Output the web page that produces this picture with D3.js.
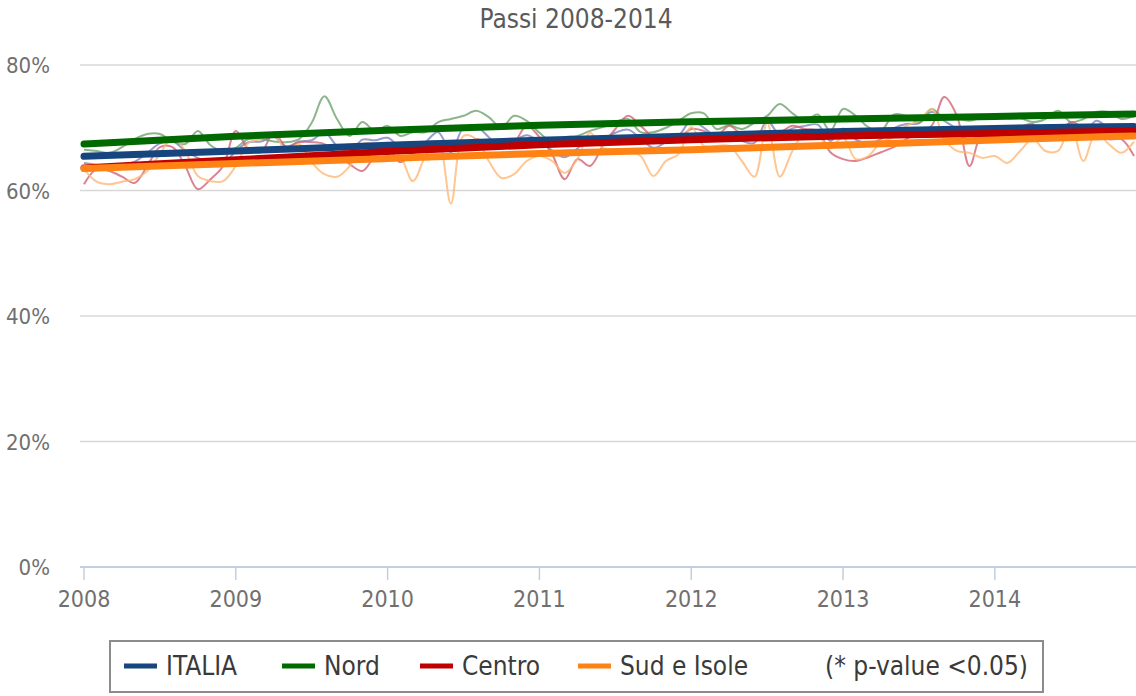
<!DOCTYPE html>
<html>
<head>
<meta charset="utf-8">
<script src="https://cdn.jsdelivr.net/npm/d3@7"></script>
<style>
  body { margin: 0; background: #fff; }
  svg text { font-family: "DejaVu Sans Condensed", "DejaVu Sans", sans-serif; font-stretch: condensed; }
</style>
</head>
<body>
<div id="chart"></div>
<script>
// monthly values, Jan 2008 .. Dec 2014
const startYear = 2008;
const yearTicks = [2008, 2009, 2010, 2011, 2012, 2013, 2014];
const yTicks = [0, 20, 40, 60, 80];

const italia = [64.4,64.1,63.7,64.1,64.6,66.0,67.5,67.9,66.3,65.2,64.2,64.2,
  66.3,67.7,67.8,68.6,67.0,67.8,68.0,69.3,67.1,66.1,68.1,68.0,
  68.4,66.8,66.0,67.7,69.3,66.1,70.0,70.2,68.5,66.7,67.9,68.8,
  67.8,66.4,65.3,66.7,68.3,68.3,69.2,69.7,68.3,66.8,67.7,68.7,
  71.1,70.0,68.6,69.3,67.9,67.6,71.1,68.9,69.9,70.3,70.5,67.9,
  69.9,68.1,67.6,68.2,69.9,70.6,70.7,72.5,71.1,69.8,67.9,69.1,
  69.4,68.7,69.4,69.9,68.9,69.6,70.7,68.8,71.1,69.9,68.8,69.3];
const nord = [66.5,66.3,66.0,66.9,68.2,69.0,69.0,67.8,67.4,69.5,67.2,66.3,
  66.8,68.2,68.2,67.8,67.7,68.2,70.8,75.0,71.4,68.7,70.9,69.5,
  70.3,68.7,69.3,69.3,70.9,71.4,71.9,72.7,71.7,70.0,71.9,71.1,
  69.2,67.8,68.5,68.7,69.5,70.1,70.9,71.4,69.3,69.3,70.0,71.1,
  72.3,72.3,69.8,70.4,69.8,70.8,71.9,73.8,72.3,71.1,72.1,69.5,
  73.0,71.9,70.1,69.5,72.1,71.9,70.8,73.0,71.5,71.5,71.1,71.7,
  71.9,71.5,71.5,70.9,71.4,72.7,70.9,71.4,72.5,72.5,71.4,71.9];
const centro = [61.0,63.4,63.1,62.2,61.2,63.9,66.9,66.9,63.9,60.2,61.8,63.9,
  69.5,66.6,66.1,69.3,66.9,67.7,67.7,67.4,65.8,64.2,63.1,65.5,
  66.9,64.5,66.1,67.7,67.8,67.8,67.4,68.2,67.4,67.1,67.7,70.3,
  68.5,65.8,61.8,65.0,63.9,67.1,69.8,71.9,70.3,68.5,67.7,68.2,
  69.8,69.5,68.7,70.3,69.0,69.3,69.5,69.3,70.3,69.8,69.5,66.1,
  65.0,64.7,65.3,66.1,66.9,68.2,69.3,70.3,74.9,71.9,63.9,69.3,
  69.8,69.5,70.1,70.6,68.2,68.7,70.9,70.1,70.3,68.2,68.2,65.5];
const sud = [63.4,61.4,61.0,61.4,61.8,63.1,65.8,68.5,66.3,62.3,61.5,61.5,
  63.9,67.6,68.2,69.0,66.3,67.4,64.5,62.6,62.2,63.9,67.4,67.4,
  66.9,65.5,61.5,65.5,67.8,57.9,68.7,68.2,64.7,62.0,62.6,64.7,
  65.5,64.7,62.8,65.0,69.2,66.8,66.6,66.3,65.5,62.3,64.7,65.8,
  70.1,67.1,67.1,67.1,64.7,62.2,70.8,62.2,66.3,69.3,68.7,66.9,
  68.5,65.0,65.5,67.7,68.5,70.3,71.1,73.0,68.2,66.3,66.0,65.2,
  65.5,64.4,66.3,68.2,66.3,66.3,70.3,64.7,69.3,67.4,66.0,67.8];

// trend lines, read at each January and at Dec 2014
const trendYears = [2008, 2009, 2010, 2011, 2012, 2013, 2014, 2014 + 11/12];
const italiaTrend = [65.45, 66.3, 67.2, 68.0, 68.7, 69.4, 69.9, 70.2];
const nordTrend   = [67.4, 68.65, 69.6, 70.4, 70.95, 71.4, 71.8, 72.2];
const centroTrend = [63.6, 64.9, 66.2, 67.3, 68.1, 68.7, 69.1, 69.5];
const sudTrend    = [63.5, 64.3, 65.1, 65.9, 66.5, 67.25, 68.05, 68.7];

const names = ["ITALIA", "Nord", "Centro", "Sud e Isole"];
const colors = ["#17457e", "#006a00", "#c00000", "#ff8214"];
const thinColors = ["#7a86c0", "#6fa26f", "#d26474", "#ffb877"];

const width = 1136, height = 696;
const plotLeft = 80, plotRight = 1136;

const x = d3.scaleLinear().domain([startYear, startYear + 83 / 12]).range([84, 1134]);
const y = d3.scaleLinear().domain([0, 80]).range([567, 65]);

const svg = d3.select("#chart").append("svg")
    .attr("width", width)
    .attr("height", height)
    .attr("viewBox", [0, 0, width, height]);

// title
svg.append("text")
    .attr("x", 576).attr("y", 28)
    .attr("text-anchor", "middle")
    .attr("fill", "#5a5a5a")
    .style("font-size", "26px")
    .text("Passi 2008-2014");

// y grid and labels
const yAxis = svg.append("g");
yAxis.selectAll("line").data(yTicks.filter(d => d > 0)).join("line")
    .attr("x1", plotLeft).attr("x2", plotRight)
    .attr("y1", d => y(d)).attr("y2", d => y(d))
    .attr("stroke", "#d8d8d8").attr("stroke-width", 1.5);
yAxis.selectAll("text").data(yTicks).join("text")
    .attr("x", 50).attr("y", d => y(d) + 8)
    .attr("text-anchor", "end")
    .attr("fill", "#707070")
    .style("font-size", "22px")
    .text(d => d + "%");

// x axis
const xAxis = svg.append("g");
xAxis.append("line")
    .attr("x1", plotLeft).attr("x2", plotRight)
    .attr("y1", y(0)).attr("y2", y(0))
    .attr("stroke", "#c0d0e0").attr("stroke-width", 2);
xAxis.selectAll(".tick").data(yearTicks).join("line")
    .attr("class", "tick")
    .attr("x1", d => x(d)).attr("x2", d => x(d))
    .attr("y1", y(0)).attr("y2", y(0) + 13)
    .attr("stroke", "#c0d0e0").attr("stroke-width", 1.5);
xAxis.selectAll("text").data(yearTicks).join("text")
    .attr("x", d => x(d)).attr("y", 607)
    .attr("text-anchor", "middle")
    .attr("fill", "#707070")
    .style("font-size", "23px")
    .text(d => d);

svg.append("defs").append("clipPath").attr("id", "clip")
  .append("rect").attr("x", plotLeft).attr("y", 40)
    .attr("width", plotRight - plotLeft).attr("height", 530);

const plot = svg.append("g").attr("clip-path", "url(#clip)");

const monthly = [italia, nord, centro, sud];
const trends = [italiaTrend, nordTrend, centroTrend, sudTrend];

const thinLine = d3.line()
    .x((d, i) => x(startYear + i / 12))
    .y(d => y(d))
    .curve(d3.curveCatmullRom.alpha(0.5));

plot.selectAll(".thin").data(monthly).join("path")
    .attr("class", "thin")
    .attr("d", thinLine)
    .attr("fill", "none")
    .attr("stroke", (d, i) => thinColors[i])
    .attr("stroke-opacity", 0.8)
    .attr("stroke-width", 2);

const trendLine = d3.line()
    .x((d, i) => x(trendYears[i]))
    .y(d => y(d))
    .curve(d3.curveMonotoneX);

plot.selectAll(".trend").data(trends).join("path")
    .attr("class", "trend")
    .attr("d", trendLine)
    .attr("fill", "none")
    .attr("stroke", (d, i) => colors[i])
    .attr("stroke-width", 7)
    .attr("stroke-linecap", "round");

// legend
const legend = svg.append("g");
legend.append("rect")
    .attr("x", 110).attr("y", 641)
    .attr("width", 933).attr("height", 51)
    .attr("fill", "#fff")
    .attr("stroke", "#8c8c8c").attr("stroke-width", 2);

const legendX = [124, 282, 420, 578];
names.forEach((name, i) => {
  legend.append("line")
      .attr("x1", legendX[i]).attr("x2", legendX[i] + 33)
      .attr("y1", 666).attr("y2", 666)
      .attr("stroke", colors[i]).attr("stroke-width", 5);
  legend.append("text")
      .attr("x", legendX[i] + 42).attr("y", 675)
      .attr("fill", "#3a3a3a")
      .style("font-size", "26px")
      .text(name);
});
legend.append("text")
    .attr("x", 1028).attr("y", 675)
    .attr("text-anchor", "end")
    .attr("fill", "#3a3a3a")
    .style("font-size", "26px")
    .text("(* p-value <0.05)");
</script>
</body>
</html>
